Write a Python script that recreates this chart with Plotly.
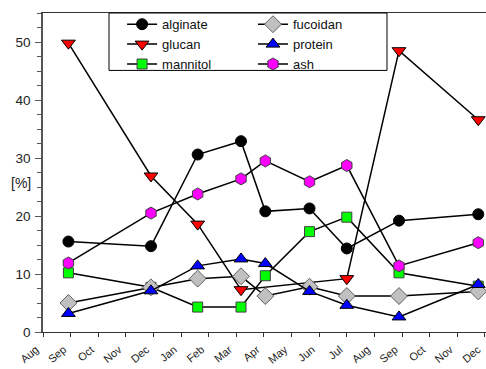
import plotly.graph_objects as go

# sampling times in month units (0 = Aug, 16 = Dec of following year)
t = [0.92, 3.91, 5.6, 7.17, 8.05, 9.65, 11.0, 12.89, 15.76]
t_glucan = [0.92, 3.91, 5.6, 7.17, 11.0, 12.89, 15.76]

alginate = [15.6, 14.8, 30.6, 32.9, 20.8, 21.3, 14.4, 19.2, 20.3]
glucan = [49.8, 26.9, 18.6, 7.3, 9.2, 48.5, 36.6]
mannitol = [10.2, 7.7, 4.3, 4.3, 9.7, 17.3, 19.8, 10.2, 7.9]
fucoidan = [5.0, 7.7, 9.2, 9.6, 6.2, 7.8, 6.2, 6.2, 7.0]
protein = [3.2, 7.1, 11.4, 12.6, 11.8, 7.0, 4.6, 2.6, 8.2]
ash = [11.9, 20.5, 23.8, 26.4, 29.5, 25.9, 28.7, 11.4, 15.4]

tick_labels = ["Aug", "Sep", "Oct", "Nov", "Dec", "Jan", "Feb", "Mar", "Apr",
               "May", "Jun", "Jul", "Aug", "Sep", "Oct", "Nov", "Dec"]

series = [
    ("alginate", t, alginate, "circle", "#000000", "#000000", 11, "legend"),
    ("glucan", t_glucan, glucan, "triangle-down", "#ff0000", "#000000", 12, "legend"),
    ("mannitol", t, mannitol, "square", "#00ff00", "#404040", 10, "legend"),
    ("fucoidan", t, fucoidan, "diamond", "#c0c0c0", "#606060", 13, "legend2"),
    ("protein", t, protein, "triangle-up", "#0000ff", "#000000", 12, "legend2"),
    ("ash", t, ash, "hexagon", "#ff00ff", "#404040", 12, "legend2"),
]

fig = go.Figure()
for name, xs, ys, sym, fill, edge, size, leg in series:
    fig.add_trace(go.Scatter(
        x=xs, y=ys, name=name, mode="lines+markers",
        line=dict(color="black", width=1.5),
        marker=dict(symbol=sym, color=fill, size=size,
                    line=dict(color=edge, width=1)),
        legend=leg,
    ))

fig.add_annotation(text="[%]", xref="paper", yref="paper",
                   x=-0.022, y=0.467, xanchor="right", yanchor="middle",
                   showarrow=False, font=dict(size=14, color="#222222"))

# legend frame
fig.add_shape(type="rect", xref="paper", yref="paper",
              x0=0.149, x1=0.7765, y0=0.82, y1=1.0,
              line=dict(color="black", width=1), fillcolor="white",
              layer="above")

leg_font = dict(size=13, color="#111111")
fig.update_layout(
    width=486, height=369,
    margin=dict(l=43, r=0, t=13, b=37),
    paper_bgcolor="white", plot_bgcolor="white",
    font=dict(family="Arial, Liberation Sans, sans-serif", color="#222222"),
    showlegend=True,
    legend=dict(x=0.1785, y=0.902, xanchor="left", yanchor="middle",
                bgcolor="rgba(0,0,0,0)", borderwidth=0, font=leg_font,
                traceorder="normal"),
    legend2=dict(x=0.474, y=0.902, xanchor="left", yanchor="middle",
                 bgcolor="rgba(0,0,0,0)", borderwidth=0, font=leg_font,
                 traceorder="normal"),
    xaxis=dict(
        range=[0, 16.04], tickmode="array", tickvals=list(range(17)),
        ticktext=tick_labels, tickangle=-40, ticks="outside", ticklen=4,
        tickcolor="#333333", showgrid=False, zeroline=False,
        showline=True, linecolor="#333333", linewidth=1, mirror=True,
        tickfont=dict(size=11), ticklabeloverflow="allow",
        ticklabelshift=-7, ticklabelstandoff=2, automargin=False,
    ),
    yaxis=dict(
        range=[0, 55], tickmode="array", tickvals=[0, 10, 20, 30, 40, 50],
        ticks="outside", ticklen=6, tickcolor="#555555",
        showgrid=False, zeroline=False,
        showline=True, linecolor="#555555", linewidth=1.5, mirror=False,
        tickfont=dict(size=13.5), ticklabelstandoff=2, automargin=False,
        minor=dict(dtick=2.5, ticks="outside", ticklen=4, tickcolor="#555555"),
    ),
)

fig.write_html("out.html")
